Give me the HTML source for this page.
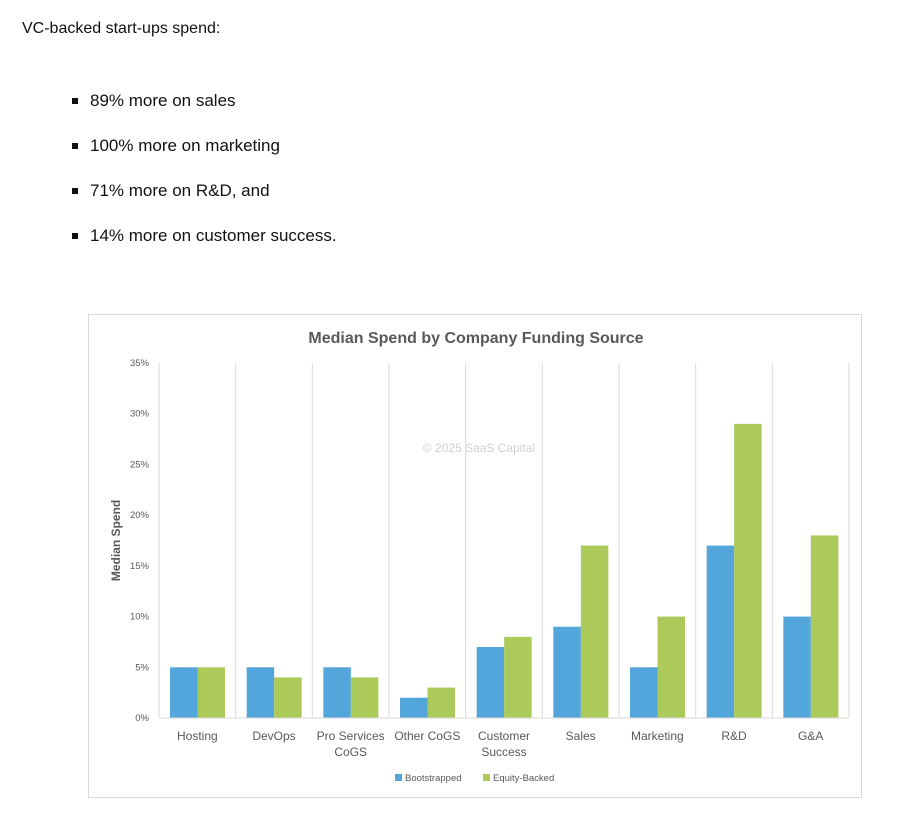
<!DOCTYPE html>
<html><head><meta charset="utf-8"><style>
body{margin:0;width:906px;height:816px;background:#fff;font-family:"Liberation Sans",sans-serif;overflow:hidden;position:relative}
.intro{position:absolute;left:22px;top:20px;font-size:16px;color:#111}
ul{position:absolute;left:72px;top:78px;margin:0;padding:0;list-style:none}
li{font-size:17px;color:#111;height:45px;line-height:45px;position:relative;padding-left:18px}
li:before{content:"";position:absolute;left:0;top:20px;width:6px;height:6px;background:#111}
#chart{position:absolute;left:88px;top:314px;width:774px;height:484px;border:1px solid #d9d9d9;box-sizing:border-box}
</style></head><body>
<div class="intro">VC-backed start-ups spend:</div>
<ul>
<li>89% more on sales</li>
<li>100% more on marketing</li>
<li>71% more on R&amp;D, and</li>
<li>14% more on customer success.</li>
</ul>
<div id="chart"><svg id="svg" width="774" height="484" xmlns="http://www.w3.org/2000/svg"></svg></div>
<script>
const categories=[["Hosting"],["DevOps"],["Pro Services","CoGS"],["Other CoGS"],["Customer","Success"],["Sales"],["Marketing"],["R&D"],["G&A"]];
const bootstrapped=[5,5,5,2,7,9,5,17,10];
const equityBacked=[5,4,4,3,8,17,10,29,18];
const yTicks=[0,5,10,15,20,25,30,35];
const yTickLabels=["0%","5%","10%","15%","20%","25%","30%","35%"];
const NS="http://www.w3.org/2000/svg";
const svg=document.getElementById('svg');
const ox=88,oy=314;
const L=158-ox,R=848-ox,B=717-oy,T=362-oy;
const y=v=>B-(v/35)*(B-T);
const cw=(R-L)/categories.length;
const x=i=>L+i*cw;
function mk(t,a){const e=document.createElementNS(NS,t);for(const k in a)e.setAttribute(k,a[k]);svg.appendChild(e);return e;}
let e=mk('text',{x:387,y:28,'text-anchor':'middle','font-size':16,'font-weight':'bold',fill:'#595959','font-family':'Liberation Sans'});e.textContent='Median Spend by Company Funding Source';

e=mk('text',{x:390,y:137,'text-anchor':'middle','font-size':12,fill:'#d0d0d0'});e.textContent='© 2025 SaaS Capital';

for(let i=0;i<=categories.length;i++){e=mk('line',{x1:x(i),x2:x(i),y1:T,y2:B,stroke:'#d9d9d9','stroke-width':1});
}
yTicks.forEach((v,i)=>{e=mk('text',{x:L-10,y:y(v)+3,'text-anchor':'end','font-size':9.5,fill:'#595959'});e.textContent=yTickLabels[i];
});
e=mk('text',{x:0,y:0,'text-anchor':'middle','font-size':12,'font-weight':'bold',fill:'#595959',transform:`translate(31,${(T+B)/2}) rotate(-90)`});e.textContent='Median Spend';

const bw=27.5,off=11;
categories.forEach((c,i)=>{
 let r=mk('rect',{x:x(i)+off,y:y(bootstrapped[i]),width:bw,height:B-y(bootstrapped[i]),fill:'#52a6dc'});
 
 r=mk('rect',{x:x(i)+off+bw,y:y(equityBacked[i]),width:bw,height:B-y(equityBacked[i]),fill:'#abca5a'});
 
 c.forEach((ln,j)=>{const t=mk('text',{x:x(i)+cw/2,y:B+22+j*16,'text-anchor':'middle','font-size':12,fill:'#595959'});t.textContent=ln;
 });
});
e=mk('line',{x1:L,x2:R,y1:B,y2:B,stroke:'#d9d9d9','stroke-width':1});

const lg=[["Bootstrapped","#52a6dc",306],["Equity-Backed","#abca5a",394]];
lg.forEach(l=>{let r=mk('rect',{x:l[2],y:459,width:7,height:7,fill:l[1]});
 let t=mk('text',{x:l[2]+10,y:466,'font-size':9.5,fill:'#595959'});t.textContent=l[0];});
</script>
</body></html>
